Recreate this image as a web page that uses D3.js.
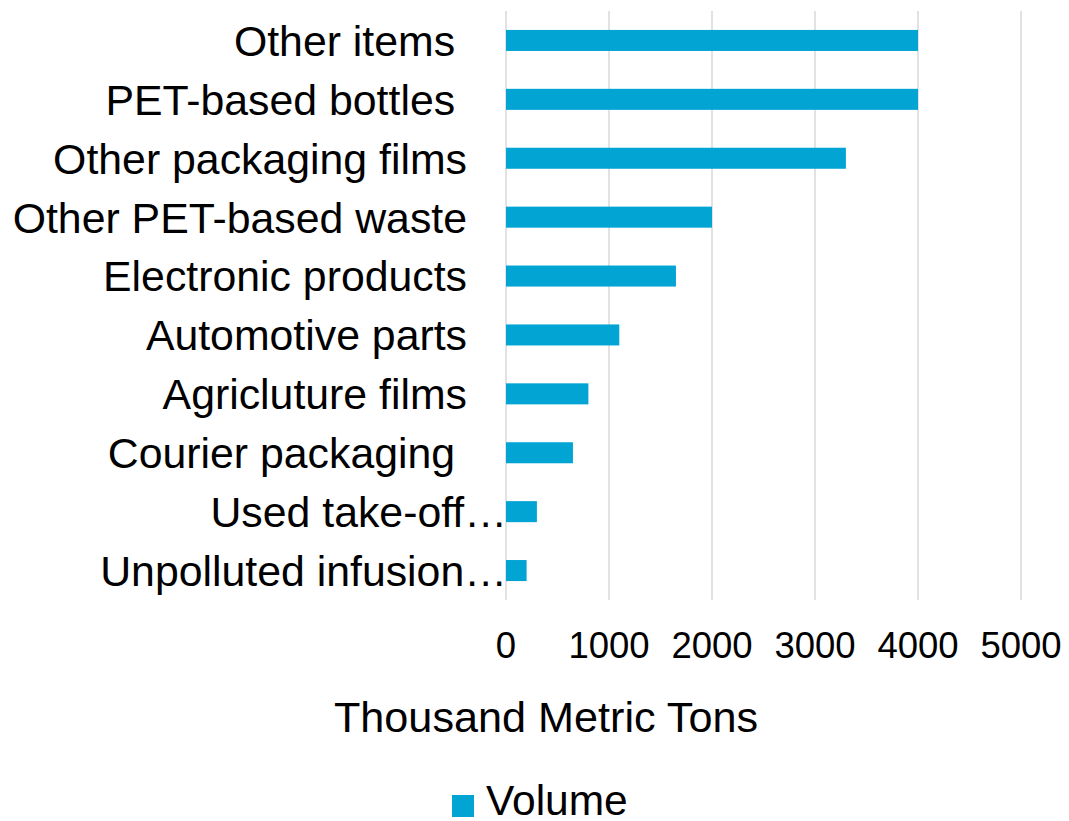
<!DOCTYPE html>
<html>
<head>
<meta charset="utf-8">
<script src="https://cdn.jsdelivr.net/npm/d3@7"></script>
<style>
  body { margin: 0; background: #fff; }
  text { font-family: "Liberation Sans", Arial, sans-serif; fill: #000; }
</style>
</head>
<body>
<div id="chart"></div>
<script>
// categories, top to bottom (trailing spaces kept as in the source chart)
var categories = ["Other items ", "PET-based bottles ", "Other packaging films", "Other PET-based waste",
    "Electronic products", "Automotive parts", "Agricluture films", "Courier packaging ",
    "Used take-off…", "Unpolluted infusion…"];
var volume = [4000, 4000, 3300, 2000, 1650, 1100, 800, 650, 300, 200];
var xTicks = [0, 1000, 2000, 3000, 4000, 5000];
var seriesName = "Volume";
var axisTitle = "Thousand Metric Tons";

var width = 1069, height = 821;
var barColor = "#02a4d4";

var svg = d3.select("#chart")
    .append("svg")
    .attr("width", width)
    .attr("height", height)

var x = d3.scaleLinear()
    .domain([0, 5000])
    .range([506, 1021])
var y = d3.scaleBand()
    .domain(categories)
    .range([11, 600])
    .paddingInner(0.643)
    .paddingOuter(0.3215)

// gridlines
svg.append("g")
    .selectAll("line")
    .data(xTicks)
    .enter()
    .append("line")
    .attr("x1", d => x(d))
    .attr("x2", d => x(d))
    .attr("y1", 11)
    .attr("y2", 600)
    .attr("stroke", "#d9d9d9")
    .attr("stroke-width", 1.5)

// bars
svg.append("g")
    .selectAll("rect")
    .data(volume)
    .enter()
    .append("rect")
    .attr("x", x(0))
    .attr("y", (d, i) => y(categories[i]))
    .attr("width", d => x(d) - x(0))
    .attr("height", y.bandwidth())
    .attr("fill", barColor)

// category labels
svg.append("g")
    .selectAll("text")
    .data(categories)
    .enter()
    .append("text")
    .attr("x", d => d.endsWith("…") ? x(0) + 1 : x(0) - 39)
    .attr("y", d => y(d) + y.bandwidth() / 2)
    .attr("dy", "0.36em")
    .attr("text-anchor", "end")
    .style("white-space", "pre")
    .style("font-size", "42.8px")
    .text(d => d)

// tick labels
svg.append("g")
    .selectAll("text")
    .data(xTicks)
    .enter()
    .append("text")
    .attr("x", d => x(d))
    .attr("y", 658)
    .attr("text-anchor", "middle")
    .style("font-size", "36.5px")
    .text(d => d)

// axis title
svg.append("text")
    .attr("x", 546)
    .attr("y", 732)
    .attr("text-anchor", "middle")
    .style("font-size", "43.2px")
    .text(axisTitle)

// legend
svg.append("rect")
    .attr("x", 452)
    .attr("y", 795)
    .attr("width", 22)
    .attr("height", 22)
    .attr("fill", barColor)
svg.append("text")
    .attr("x", 486)
    .attr("y", 815)
    .style("font-size", "42.5px")
    .text(seriesName)
</script>
</body>
</html>
